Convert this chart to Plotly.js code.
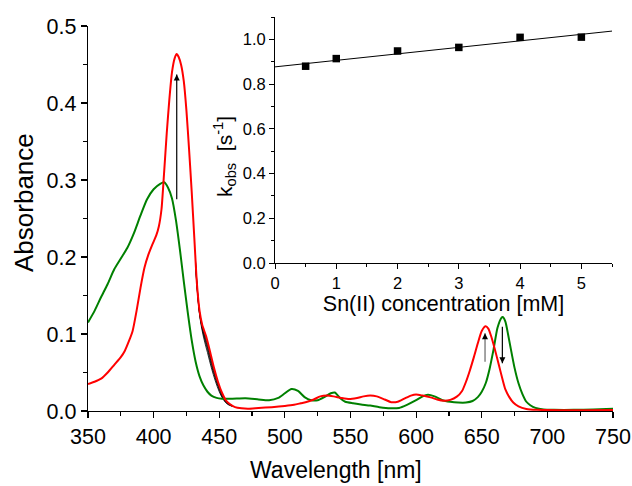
<!DOCTYPE html>
<html>
<head>
<meta charset="utf-8">
<script src="https://cdn.plot.ly/plotly-3.0.1.min.js"></script>
<style>html,body{margin:0;padding:0;background:#fff;}#chart{width:632px;height:486px;}</style>
</head>
<body>
<div id="chart"></div>
<script>
// ---- Main spectra data ----
const greenWavelength = [350,355,360,365,370,375,380,385,390,395,400,405,408,411,414,417,420,423,426,429,432,435,438,441,444,448,452,460,470,480,488,495,500,505,510,515,520,525,530,535,538,542,546,552,558,565,572,580,587,593,600,605,609,614,620,626,632,638,643,647,650,653,656,659,662,665,666,668,670,672,675,678,681,684,687,691,697,705,720,735,750];
const greenAbs = [0.115,0.130,0.148,0.165,0.184,0.198,0.212,0.231,0.254,0.275,0.288,0.295,0.297,0.290,0.276,0.248,0.210,0.168,0.128,0.092,0.064,0.045,0.033,0.025,0.020,0.017,0.016,0.016,0.0165,0.015,0.014,0.017,0.023,0.0285,0.026,0.018,0.014,0.014,0.018,0.023,0.024,0.017,0.012,0.010,0.0085,0.007,0.005,0.0035,0.004,0.008,0.014,0.019,0.021,0.019,0.014,0.012,0.011,0.011,0.013,0.018,0.025,0.036,0.055,0.080,0.108,0.121,0.122,0.116,0.100,0.082,0.056,0.036,0.022,0.012,0.0075,0.004,0.002,0.0015,0.0015,0.002,0.003];

const redWavelength = [350,355,360,365,370,375,378,381,384,387,390,393,396,399,402,404,406,408,410,412,414,416,417.6,419,421,423,425,427,429,431,433,435,437,440,443,446,449,452,455,458,462,467,472,480,490,500,507,512,517,522,527,532,537,543,549,555,560,565,570,576,581,586,591,596,600,605,611,616,621,626,631,635,638,641,644,647,650,653,655,657,660,663,666,668,671,674,678,684,692,710,730,750];
const redAbs = [0.035,0.038,0.042,0.050,0.060,0.070,0.078,0.090,0.104,0.130,0.160,0.186,0.203,0.216,0.228,0.240,0.262,0.310,0.361,0.405,0.440,0.458,0.4635,0.460,0.449,0.428,0.390,0.340,0.285,0.225,0.165,0.130,0.112,0.097,0.077,0.056,0.038,0.024,0.014,0.009,0.005,0.0035,0.003,0.004,0.005,0.0065,0.008,0.010,0.012,0.015,0.019,0.020,0.019,0.017,0.0156,0.017,0.019,0.020,0.019,0.015,0.0115,0.012,0.016,0.020,0.0215,0.020,0.0177,0.015,0.0134,0.0145,0.0186,0.026,0.038,0.053,0.070,0.088,0.104,0.110,0.107,0.098,0.080,0.060,0.040,0.028,0.018,0.011,0.006,0.0026,0.0015,0.001,0.001,0.0012];

// intermediate spectra (visible only on the 430-460 nm flank)
const midWavelength = [432,435,438,441,444,447,450,453,456,460];
const mid1 = [0.186,0.125,0.096,0.076,0.056,0.039,0.025,0.015,0.009,0.006];
const mid2 = [0.188,0.126,0.099,0.080,0.059,0.042,0.027,0.016,0.010,0.006];
const mid3 = [0.190,0.127,0.101,0.083,0.062,0.044,0.029,0.017,0.010,0.0065];
const mid4 = [0.192,0.128,0.103,0.086,0.065,0.046,0.030,0.018,0.011,0.0065];
const mid5 = [0.194,0.129,0.105,0.089,0.067,0.048,0.031,0.019,0.011,0.007];

// ---- Inset data ----
const snConc = [0.5,1,2,3,4,5];
const kObs = [0.880,0.914,0.948,0.964,1.009,1.010];
const fitConc = [0,5.5];
const fitK = [0.877,1.037];

// arrows: wavelength, tail absorbance, tip absorbance
const arrowSoret = {x:417.6, from:0.275, to:0.437};
const arrowQup   = {x:652.5, from:0.064, to:0.101};
const arrowQdown = {x:665.7, from:0.1095, to:0.062};

// axis titles
const xTitle = 'Wavelength [nm]';
const yTitle = 'Absorbance';
const insetXTitle = 'Sn(II) concentration [mM]';
const insetYTitle = 'k<sub>obs</sub>  [s<sup>-1</sup>]';

const FONT = 'Liberation Sans, Arial, sans-serif';

const traces = [];
[mid1,mid2,mid3,mid4,mid5].forEach(m => traces.push({
  x: midWavelength, y: m, mode:'lines', line:{color:'#000', width:0.8, shape:'spline'},
  xaxis:'x', yaxis:'y', showlegend:false, hoverinfo:'skip'
}));
traces.push({x: greenWavelength, y: greenAbs, mode:'lines', line:{color:'#008000', width:2, shape:'spline', smoothing:0.6}, xaxis:'x', yaxis:'y', showlegend:false});
traces.push({x: redWavelength, y: redAbs, mode:'lines', line:{color:'#ff0000', width:2, shape:'spline', smoothing:0.6}, xaxis:'x', yaxis:'y', showlegend:false});

function addArrow(a, shaftColor){
  traces.push({x:[a.x,a.x], y:[a.from,a.to], mode:'lines', line:{color:shaftColor, width:1.2},
    xaxis:'x', yaxis:'y', showlegend:false, hoverinfo:'skip'});
  traces.push({x:[a.x], y:[a.to], mode:'markers',
    marker:{symbol: a.to > a.from ? 'arrow-up' : 'arrow-down', size:6, color:'#000', line:{width:0}},
    xaxis:'x', yaxis:'y', showlegend:false, hoverinfo:'skip'});
}
addArrow(arrowSoret, '#000');
addArrow(arrowQup, '#666');
addArrow(arrowQdown, '#000');

traces.push({x: fitConc, y: fitK, mode:'lines', line:{color:'#000', width:1}, xaxis:'x2', yaxis:'y2', showlegend:false});
traces.push({x: snConc, y: kObs, mode:'markers', marker:{symbol:'square', size:7.5, color:'#000'}, xaxis:'x2', yaxis:'y2', showlegend:false});

const plotH = 486-17-75;
const layout = {
  width:632, height:486,
  margin:{l:88, r:19, t:17, b:75},
  paper_bgcolor:'#fff', plot_bgcolor:'rgba(0,0,0,0)',
  font:{family:FONT, color:'#000'},
  showlegend:false,
  xaxis:{
    domain:[0,1], range:[350,750], dtick:50, tick0:350,
    showline:true, linecolor:'#000', linewidth:1.2, mirror:false,
    ticks:'outside', ticklen:6, tickwidth:1.2, tickcolor:'#000',
    minor:{dtick:25, ticks:'outside', ticklen:3.5, tickwidth:1.2, tickcolor:'#000'},
    showgrid:false, zeroline:false,
    tickfont:{size:21.5, family:FONT}
  },
  yaxis:{
    domain:[0, 385/plotH], range:[0,0.5], dtick:0.1, tick0:0, tickformat:'.1f',
    showline:true, linecolor:'#000', linewidth:1.2,
    ticks:'outside', ticklen:6, tickwidth:1.2, tickcolor:'#000',
    minor:{dtick:0.05, ticks:'outside', ticklen:3.5, tickwidth:1.2, tickcolor:'#000'},
    showgrid:false, zeroline:false,
    tickfont:{size:21.5, family:FONT}
  },
  xaxis2:{
    domain:[187/525, 524/525], anchor:'y2', range:[0,5.5], dtick:1, tick0:0,
    showline:true, linecolor:'#000', linewidth:1,
    ticks:'outside', ticklen:5, tickwidth:1, tickcolor:'#000',
    minor:{dtick:0.5, ticks:'outside', ticklen:3, tickwidth:1, tickcolor:'#000'},
    showgrid:false, zeroline:false,
    tickfont:{size:16.5, family:FONT},
    title:{text:insetXTitle, font:{size:21.5, family:FONT}, standoff:1}
  },
  yaxis2:{
    domain:[148/plotH, 1], anchor:'x2', range:[0,1.1], dtick:0.2, tick0:0, tickformat:'.1f',
    showline:true, linecolor:'#000', linewidth:1,
    ticks:'outside', ticklen:5, tickwidth:1, tickcolor:'#000',
    minor:{dtick:0.1, ticks:'outside', ticklen:3, tickwidth:1, tickcolor:'#000'},
    showgrid:false, zeroline:false,
    tickfont:{size:16.5, family:FONT}
  },
  annotations:[
    {text:xTitle, xref:'paper', yref:'paper', x:(336-88)/525, y:(411-470)/plotH,
     xanchor:'center', yanchor:'middle', showarrow:false, font:{size:23, family:FONT}},
    {text:yTitle, xref:'paper', yref:'paper', x:(24-88)/525, y:(411-203)/plotH, textangle:-90,
     xanchor:'center', yanchor:'middle', showarrow:false, font:{size:26, family:FONT}},
    {text:insetYTitle, xref:'paper', yref:'paper', x:(225-88)/525, y:(411-157)/plotH, textangle:-90,
     xanchor:'center', yanchor:'middle', showarrow:false, font:{size:21, family:FONT}}
  ]
};

Plotly.newPlot('chart', traces, layout, {displayModeBar:false, staticPlot:true});
</script>
</body>
</html>
